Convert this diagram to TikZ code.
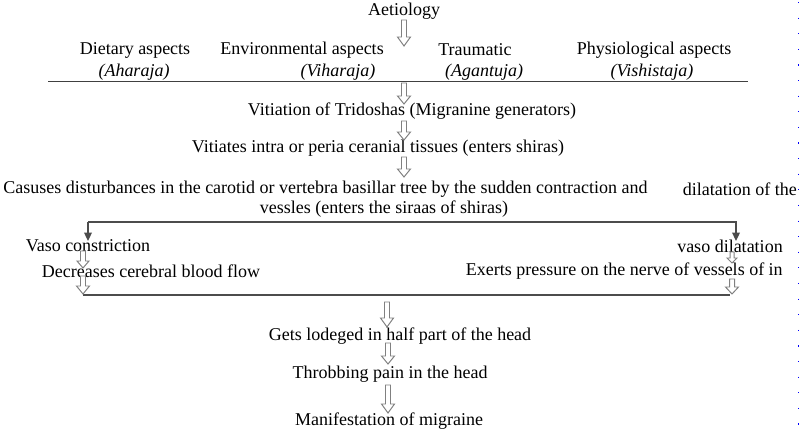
\documentclass[tikz,border=0pt]{standalone}
\usepackage{fontspec}
\setmainfont{Liberation Serif}
\usepackage{tikz}
\usetikzlibrary{arrows.meta,calc}

\begin{document}
\begin{tikzpicture}[x=0.025cm,y=-0.025cm,
		txt/.style={inner sep=0pt,font=\fontsize{12.8}{15}\selectfont},
		hollow/.style={draw=gray,fill=white,line width=0.7pt,line join=miter},
		frame/.style={draw=black!70,line width=0.9pt},
		tip/.style={-{Triangle[length=6pt,width=5.5pt]}}]
				\useasboundingbox (0,0) rectangle (800,431);
				% heading and the four causes
				\node[txt] (aet) at (404,11) {Aetiology};
				\node[txt] (diet) at (135,50) {Dietary aspects};
				\node[txt] (dietsk) at (134,72) {\textit{(Aharaja)}};
				\node[txt] (env) at (302,50) {Environmental aspects};
				\node[txt] (envsk) at (338,72) {\textit{(Viharaja)}};
				\node[txt] (trauma) at (475,50) {Traumatic};
				\node[txt] (traumask) at (484,72) {\textit{(Agantuja)}};
				\node[txt] (physio) at (654,50) {Physiological aspects};
				\node[txt] (physiosk) at (652,72) {\textit{(Vishistaja)}};
				\coordinate (ul) at (48,81);
				\coordinate (ur) at (748,81);
				\draw[black!75,line width=0.7pt] (ul) -- (ur);
				% chain down to the split
				\node[txt] (vit) at (412,111) {Vitiation of Tridoshas (Migranine generators)};
				\node[txt] (tissue) at (378,148) {Vitiates intra or peria ceranial tissues (enters shiras)};
				\node[txt,anchor=west] (dist) at (3,189) {Casuses disturbances in the carotid or vertebra basillar tree by the sudden contraction and};
				\node[txt,anchor=east] (distb) at (797,189) {dilatation of the};
				\node[txt] (distc) at (384,209) {vessles (enters the siraas of shiras)};
				% the two branches
				\node[txt] (vasoc) at (88,246) {Vaso constriction};
				\node[txt,anchor=east] (vasod) at (783,246) {vaso dilatation};
				\node[txt] (decr) at (151,271) {Decreases cerebral blood flow};
				\node[txt,anchor=east] (exert) at (783,271) {Exerts pressure on the nerve of vessels of in};
				\coordinate (fl) at (88,222);
				\coordinate (fr) at (736,222);
				\coordinate (fltip) at (88,241);
				\coordinate (frtip) at (736,241);
				\draw[frame,tip] (fl) -- (fltip);
				\draw[frame,tip] (fl) -- (fr) -- (frtip);
				\coordinate (bl) at (83,295);
				\coordinate (br) at (730,295);
				\draw[frame] (bl) -- (br);
				% end of the chain
				\node[txt] (lodge) at (400,336) {Gets lodeged in half part of the head};
				\node[txt] (throb) at (390,374) {Throbbing pain in the head};
				\node[txt] (manif) at (389,421) {Manifestation of migraine};
				% hollow arrows: x / top / tip / half shaft / half head / head length
				\foreach \x/\t/\b/\s/\w/\h in {404/20/46/2.5/6.5/9, 404/83/104/2.5/6.5/8, 404/121/140/2.5/6.5/8,
					404/157/177/2.5/6.5/8, 83/251/268/2.5/6/7, 83/276/294/2.5/6.5/8,
					732/252/263/2/5/5, 732/279/294/2.5/6.5/7,
					387/302/327/2.5/6.5/9, 388/343/364/2.5/6.5/8, 388/385/413/2.5/6.5/9}
				\draw[hollow] (\x-\s,\t) -- (\x+\s,\t) -- (\x+\s,\b-\h) -- (\x+\w,\b-\h) -- (\x,\b)
					-- (\x-\w,\b-\h) -- (\x-\s,\b-\h) -- cycle;
				% edge of the text frame
				\draw[blue,line width=0.6pt,dash pattern=on 0.8pt off 10.3pt] (798,2) -- (798,431);
\end{tikzpicture}
\end{document}
